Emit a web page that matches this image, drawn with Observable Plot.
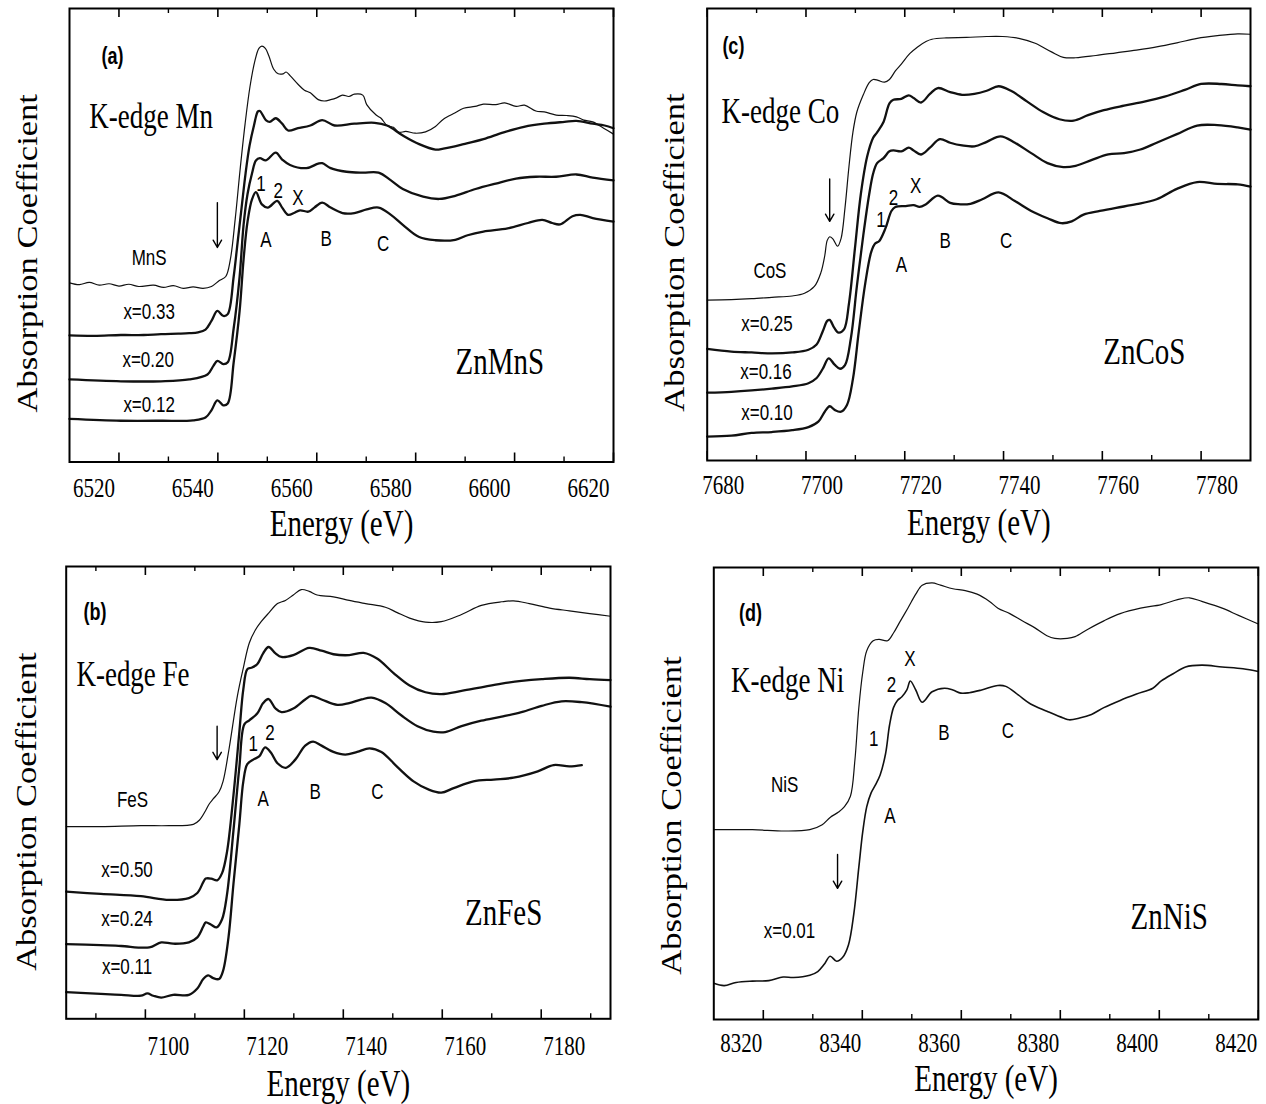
<!DOCTYPE html>
<html><head><meta charset="utf-8">
<script src="https://cdn.jsdelivr.net/npm/d3@7"></script>
<script src="https://cdn.jsdelivr.net/npm/@observablehq/plot@0.6"></script>
<style>
html,body{margin:0;padding:0;background:#fff;}
#fig{position:relative;width:1266px;height:1104px;overflow:hidden;background:#fff;}
#fig > svg{position:absolute;}
</style></head><body><div id="fig"></div>
<script>
// ---------- Panel (a): K-edge Mn, ZnMnS ----------
const ticksA = [6520, 6540, 6560, 6580, 6600, 6620];
const minorA = [6530, 6550, 6570, 6590, 6610];
const mnsA = [[6510,39.5],[6512,39.1],[6514,39.6],[6516,39.0],[6518,39.3],[6520,38.8],[6522,39.2],[6524,38.7],[6527,39.0],[6529,38.5],[6531,38.9],[6533,38.3],[6535,38.6],[6537,38.3],[6538.7,38.7],[6540.3,40.0],[6541.6,40.9],[6542.5,44.5],[6543.5,53.5],[6544.5,64.5],[6545.5,74.5],[6546.5,82.8],[6547.5,88.5],[6548.3,91.2],[6548.9,91.7],[6549.6,91.2],[6550.3,89.6],[6551.3,86.6],[6552.2,85.6],[6553.2,85.6],[6553.8,86.0],[6554.6,85.2],[6556.2,83.3],[6557.5,82.0],[6558.7,81.4],[6560.3,79.9],[6561.5,79.6],[6562.8,79.9],[6564,80.3],[6565.2,80.9],[6566.5,80.6],[6567.6,81.1],[6569.3,80.9],[6570.1,78.8],[6572,76.5],[6573,75.8],[6574.2,74.2],[6575.5,73.8],[6576.6,72.7],[6578,72.9],[6579.9,72.5],[6582,72.8],[6584,74.0],[6585.6,75.6],[6588,77.0],[6589.7,78.0],[6592,78.4],[6593.7,78.9],[6596.2,78.8],[6598,79.2],[6600.3,78.4],[6602,78.7],[6604.3,77.4],[6606,77.2],[6608.4,76.5],[6610.5,76.4],[6612.5,76.1],[6614,75.4],[6615.8,75.0],[6618,73.6],[6620,72.3]];
const x033A = [[6510,27.9],[6515,27.8],[6520.4,28.0],[6525,28.0],[6528.5,28.2],[6532,28.3],[6534.2,28.4],[6536,28.6],[6537.5,29.2],[6538.7,31.1],[6539.9,33.3],[6541.1,32.2],[6542.0,32.6],[6543.2,40.9],[6544.0,48.5],[6544.8,56.1],[6545.6,63.6],[6546.4,69.7],[6547.3,74.2],[6548.1,77.3],[6548.5,77.4],[6549.7,75.4],[6550.5,75.0],[6551.7,75.8],[6553.0,74.6],[6554.2,73.1],[6556.2,73.6],[6558.7,74.2],[6561.1,75.4],[6563.6,74.2],[6567.6,74.6],[6571.7,74.8],[6574.2,74.2],[6577.4,72.0],[6580.7,70.1],[6584.0,68.9],[6585.6,69.1],[6589.7,70.1],[6593.7,71.2],[6597.8,72.7],[6601.9,73.9],[6606.0,74.6],[6610.1,75.0],[6612.5,75.2],[6615.8,74.6],[6618.2,74.2],[6620,73.6]];
const x020A = [[6510,18.2],[6520.4,17.8],[6528.5,17.8],[6534.2,18.2],[6537.9,19.3],[6539.1,21.2],[6539.9,22.3],[6541.1,21.6],[6542.0,22.0],[6543.2,29.5],[6544.4,40.9],[6545.2,52.3],[6546.0,59.1],[6546.9,63.6],[6547.7,66.5],[6548.5,67.0],[6549.7,66.5],[6551.7,68.2],[6553.0,66.7],[6554.6,65.5],[6557.9,64.8],[6560.3,65.8],[6561.1,65.9],[6562.8,64.8],[6566.0,64.0],[6569.3,63.8],[6572.5,63.8],[6575.0,62.1],[6577.4,60.2],[6581.5,58.5],[6584.8,58.0],[6588.0,58.7],[6592.1,60.2],[6596.2,61.4],[6600.3,62.5],[6604.3,62.9],[6608.4,62.9],[6612.5,63.4],[6615.8,62.7],[6620,62.1]];
const x012A = [[6510,9.5],[6520.4,9.1],[6528.5,9.1],[6535,9.2],[6537.5,9.8],[6538.7,11.4],[6539.9,13.6],[6541.1,12.5],[6542.0,12.9],[6543.2,22.0],[6544.4,33.3],[6545.2,44.7],[6546.0,53.0],[6546.9,57.9],[6547.7,59.5],[6548.9,56.8],[6550.1,56.1],[6552.0,57.6],[6553.0,56.1],[6554.2,54.5],[6555.4,54.9],[6556.6,55.5],[6558.3,55.2],[6559.5,56.1],[6561.1,57.2],[6562.8,56.1],[6565.2,54.9],[6567.6,54.9],[6570.1,55.7],[6572.5,56.1],[6575.0,54.5],[6577.4,52.3],[6580.7,49.6],[6584.0,48.9],[6588.0,49.0],[6590.5,50.0],[6593.7,50.8],[6598.6,51.5],[6602.7,52.7],[6605.6,53.4],[6607.6,52.7],[6609.2,52.4],[6611.7,54.2],[6613.3,54.5],[6615.8,53.8],[6620,53.0]];
const serifA = [{x:6526.5,y:76.1,t:"K-edge Mn",s:27},{x:6597,y:22.0,t:"ZnMnS",s:29}];
const sansA = [{x:6526.1,y:45.1,t:"MnS",s:17},{x:6526.1,y:33.0,t:"x=0.33",s:17},{x:6525.9,y:22.5,t:"x=0.20",s:17},{x:6526.1,y:12.5,t:"x=0.12",s:17},
  {x:6548.7,y:61.4,t:"1",s:17},{x:6552.2,y:59.7,t:"2",s:17},{x:6556.2,y:58.2,t:"X",s:17},{x:6549.7,y:48.9,t:"A",s:17},{x:6561.9,y:49.2,t:"B",s:17},{x:6573.4,y:48.1,t:"C",s:17}];
const tagA = [{x:6518.7,y:89.4,t:"(a)"}];
const arrowA = [{x:6539.9,y1:57.2,y2:47.3}];

// ---------- Panel (c): K-edge Co, ZnCoS ----------
const ticksC = [7680, 7700, 7720, 7740, 7760, 7780];
const minorC = [7690, 7710, 7730, 7750, 7770];
const cosC = [[7680,35.5],[7684.9,35.6],[7689.0,35.8],[7693.1,36.1],[7697.2,36.4],[7699.7,37.0],[7701.7,38.5],[7703.0,41.5],[7703.8,45.3],[7704.3,48.7],[7704.8,49.5],[7705.4,49.1],[7706.4,47.4],[7707.1,49.1],[7707.9,55.9],[7708.7,65.0],[7709.5,72.6],[7710.3,77.1],[7711.6,80.9],[7712.8,83.6],[7713.6,84.3],[7714.6,84.1],[7715.9,83.7],[7716.9,84.3],[7718.1,86.2],[7719.3,87.7],[7721.0,90.0],[7722.6,91.5],[7724.3,92.7],[7725.5,93.2],[7728.4,93.5],[7732.5,93.6],[7736.6,93.8],[7739.8,93.8],[7743.1,93.4],[7746.4,92.3],[7749.7,90.4],[7752.1,89.2],[7754.6,89.1],[7758.7,89.6],[7762.8,90.2],[7766.9,90.8],[7771.0,91.5],[7775.1,92.4],[7779.2,93.4],[7783.3,94.0],[7787.4,94.4],[7790,94.3]];
const x025C = [[7680,24.7],[7684.9,24.1],[7689.0,23.9],[7693.1,23.7],[7697.2,23.9],[7700.5,24.5],[7702.1,25.6],[7703.4,28.6],[7704.3,30.9],[7704.8,31.1],[7705.7,29.4],[7706.6,28.3],[7707.7,29.0],[7708.7,34.7],[7709.9,46.8],[7711.1,58.9],[7712.4,67.3],[7713.6,71.4],[7714.4,72.6],[7715.7,74.9],[7716.9,79.0],[7717.7,79.8],[7719.3,80.0],[7720.8,80.8],[7721.8,80.2],[7723.3,79.2],[7725.1,81.1],[7726.7,82.4],[7729.2,81.5],[7731.6,80.9],[7734.1,81.1],[7736.6,81.8],[7739.0,82.8],[7741.5,81.8],[7744.8,79.4],[7748.0,77.1],[7751.3,75.5],[7754.2,75.2],[7757.1,76.4],[7760.3,77.5],[7764.4,78.5],[7768.5,79.4],[7772.6,80.5],[7776.7,82.0],[7780.0,83.3],[7784.1,83.3],[7787.4,83.0],[7790,82.8]];
const x016C = [[7680,15.0],[7684.9,15.2],[7689.0,15.5],[7693.1,15.9],[7697.2,16.4],[7700.5,17.1],[7702.1,18.2],[7703.4,20.3],[7704.6,22.6],[7705.8,21.2],[7706.9,20.3],[7707.9,21.1],[7709.1,27.1],[7710.3,38.5],[7711.6,49.8],[7712.8,58.9],[7713.6,63.5],[7714.4,65.8],[7715.7,66.9],[7716.9,68.4],[7717.7,68.6],[7719.3,68.4],[7720.8,69.2],[7721.8,68.6],[7723.3,67.7],[7725.1,69.2],[7727.1,71.1],[7729.2,70.3],[7731.6,69.7],[7734.1,69.5],[7736.6,70.5],[7739.4,71.7],[7742.3,70.3],[7745.6,68.0],[7748.9,65.8],[7752.1,64.9],[7754.6,65.2],[7757.9,66.5],[7761.2,67.7],[7764.4,68.0],[7767.7,68.8],[7771.0,70.3],[7775.1,72.2],[7779.2,74.1],[7783.3,74.2],[7787.4,73.7],[7790,73.2]];
const x010C = [[7680,5.3],[7684.9,5.5],[7689.0,6.1],[7693.1,6.3],[7697.2,6.7],[7700.5,7.4],[7702.5,8.6],[7703.8,10.8],[7704.8,12.0],[7705.8,11.2],[7707.1,10.8],[7708.3,12.3],[7709.5,18.0],[7710.7,28.6],[7712.0,39.2],[7713.2,46.1],[7714.0,48.0],[7714.8,48.5],[7716.1,51.4],[7717.3,55.2],[7718.1,56.1],[7720.2,56.3],[7721.8,56.5],[7723.0,56.1],[7724.3,56.7],[7726.7,58.6],[7729.2,57.0],[7730.8,56.7],[7733.3,56.8],[7735.7,57.8],[7739.0,59.3],[7742.3,57.4],[7745.6,55.2],[7748.9,53.6],[7751.7,52.5],[7753.8,52.9],[7756.2,54.4],[7759.5,55.2],[7762.8,55.9],[7766.9,56.7],[7771.0,57.8],[7775.1,60.1],[7779.2,61.6],[7783.3,61.2],[7787.4,61.1],[7790,60.6]];
const serifC = [{x:7694.8,y:77.1,t:"K-edge Co",s:27},{x:7768.5,y:24.1,t:"ZnCoS",s:29}];
const sansC = [{x:7692.7,y:41.9,t:"CoS",s:17},{x:7692.1,y:30.2,t:"x=0.25",s:17},{x:7691.9,y:19.5,t:"x=0.16",s:17},{x:7692.1,y:10.5,t:"x=0.10",s:17},
  {x:7715.2,y:53.3,t:"1",s:17},{x:7717.7,y:58.0,t:"2",s:17},{x:7722.2,y:60.8,t:"X",s:17},{x:7719.3,y:43.2,t:"A",s:17},{x:7728.2,y:48.6,t:"B",s:17},{x:7740.5,y:48.6,t:"C",s:17}];
const tagC = [{x:7685.3,y:91.5,t:"(c)"}];
const arrowC = [{x:7704.8,y1:62.3,y2:52.9}];

// ---------- Panel (b): K-edge Fe, ZnFeS ----------
const ticksB = [7100, 7120, 7140, 7160, 7180];
const minorB = [7090, 7110, 7130, 7150, 7170, 7190];
const fesB = [[7084,42.5],[7091,42.5],[7099.1,42.7],[7104.8,42.7],[7109.7,43.0],[7110.9,43.9],[7112.1,45.9],[7112.9,47.5],[7113.7,48.6],[7114.9,50.2],[7115.7,52.5],[7116.9,59.6],[7118.6,71.4],[7119.8,77.6],[7121.0,83.1],[7122.2,85.9],[7123.4,87.8],[7125.0,89.8],[7126.7,91.8],[7128.3,92.5],[7129.9,93.7],[7131.5,94.9],[7133.1,94.5],[7134.7,93.7],[7138.0,93.3],[7141.2,92.5],[7144.5,91.8],[7148.5,91.0],[7150.9,89.8],[7153.4,88.6],[7156.6,87.7],[7159.8,87.8],[7163.9,89.4],[7167.9,91.4],[7172.0,92.2],[7174.4,92.4],[7177.6,91.8],[7181.7,90.8],[7185.7,90.2],[7189.8,89.6],[7194,89.0]];
const x050B = [[7084,28.1],[7091.0,27.6],[7099.1,27.1],[7104.8,26.3],[7108.8,26.7],[7110.5,27.8],[7111.7,30.2],[7112.2,31.0],[7113.3,31.0],[7114.5,30.6],[7115.5,32.2],[7116.5,36.9],[7117.8,49.4],[7119.0,63.5],[7119.8,72.9],[7120.6,77.3],[7121.4,77.6],[7122.6,78.4],[7123.8,80.8],[7124.9,82.2],[7126.3,80.8],[7127.5,80.0],[7129.9,80.4],[7133.1,82.0],[7135.6,81.4],[7138.0,80.6],[7141.2,80.4],[7144.1,80.9],[7146.9,79.6],[7150.1,76.5],[7153.4,73.7],[7156.6,72.2],[7159.8,71.8],[7163.9,72.5],[7167.9,73.3],[7172.0,74.1],[7176.0,74.7],[7180.1,75.1],[7185.7,75.4],[7189.8,75.1],[7194,74.9]];
const x024B = [[7084,16.5],[7091.0,16.3],[7095.1,16.1],[7100.8,15.8],[7103.2,16.9],[7105.6,16.6],[7108.8,16.9],[7110.5,18.0],[7111.7,20.4],[7112.2,21.3],[7113.3,20.8],[7114.4,20.2],[7115.5,22.0],[7116.5,27.5],[7117.8,41.6],[7119.0,55.7],[7120.0,65.1],[7121.0,66.0],[7122.6,67.5],[7123.8,69.8],[7124.9,70.7],[7126.3,68.6],[7127.5,67.8],[7129.9,68.6],[7132.3,70.6],[7133.5,71.4],[7135.6,70.6],[7138.8,69.4],[7141.2,69.8],[7143.7,70.6],[7145.7,71.0],[7148.5,69.8],[7151.7,67.1],[7155.0,64.7],[7158.2,63.5],[7160.6,63.4],[7163.9,64.7],[7167.9,65.9],[7172.0,66.8],[7176.0,67.8],[7180.1,69.2],[7184.1,70.2],[7188.2,70.0],[7194,69.0]];
const x011B = [[7084,5.9],[7091.0,5.5],[7095.1,5.3],[7099.1,5.1],[7100.4,5.6],[7101.6,5.1],[7103.2,4.7],[7105.6,5.3],[7108.8,5.3],[7110.5,6.7],[7111.7,8.8],[7112.7,9.6],[7113.7,9.0],[7114.9,8.8],[7115.7,10.6],[7116.8,18.0],[7117.8,29.8],[7119.0,43.1],[7119.8,52.5],[7120.6,56.3],[7121.8,57.3],[7123.0,58.0],[7124.2,60.0],[7125.4,58.8],[7126.7,56.5],[7128.4,55.5],[7130.3,57.3],[7132.3,60.4],[7133.9,61.3],[7135.6,60.4],[7138.0,59.0],[7140.4,58.4],[7142.8,59.0],[7145.3,59.8],[7147.7,59.0],[7150.9,55.7],[7154.2,52.5],[7157.4,50.6],[7159.8,50.0],[7162.3,51.0],[7166.3,52.5],[7170.4,52.9],[7174.4,53.3],[7179.3,54.7],[7182.5,56.1],[7185.7,55.8],[7188.2,56.1]];
const serifB = [{x:7097.5,y:76.1,t:"K-edge Fe",s:27},{x:7172.4,y:23.5,t:"ZnFeS",s:29}];
const sansB = [{x:7097.4,y:48.5,t:"FeS",s:17},{x:7096.3,y:32.9,t:"x=0.50",s:17},{x:7096.3,y:22.0,t:"x=0.24",s:17},{x:7096.3,y:11.4,t:"x=0.11",s:17},
  {x:7121.8,y:60.8,t:"1",s:17},{x:7125.2,y:63.1,t:"2",s:17},{x:7123.8,y:48.6,t:"A",s:17},{x:7134.3,y:50.2,t:"B",s:17},{x:7146.9,y:50.2,t:"C",s:17}];
const tagB = [{x:7089.8,y:89.8,t:"(b)"}];
const arrowB = [{x:7114.5,y1:64.7,y2:57.3}];

// ---------- Panel (d): K-edge Ni, ZnNiS ----------
const ticksD = [8320, 8340, 8360, 8380, 8400, 8420];
const minorD = [8330, 8350, 8370, 8390, 8410];
const nisD = [[8310,42.0],[8317.8,42.0],[8324.4,41.7],[8329.4,42.0],[8331.9,43.1],[8333.5,44.7],[8335.2,45.9],[8336.4,47.1],[8337.6,49.4],[8338.5,57.3],[8339.3,69.0],[8340.1,76.9],[8340.9,81.6],[8342.2,83.8],[8343.4,84.1],[8345.1,83.8],[8346.3,85.5],[8347.5,87.8],[8349.2,91.0],[8350.8,94.1],[8352.1,96.1],[8354.1,96.6],[8355.8,96.1],[8358.3,95.3],[8360.8,94.9],[8363.2,94.1],[8365.7,92.5],[8367.4,91.0],[8369.8,89.8],[8372.3,88.2],[8374.8,86.7],[8377.3,84.9],[8378.9,84.3],[8381.4,84.3],[8383.0,84.7],[8385.5,86.3],[8388.8,88.2],[8392.1,89.8],[8396.2,91.0],[8400.4,91.8],[8403.7,92.9],[8406.1,93.3],[8408.6,92.5],[8412.7,91.0],[8416.0,89.4],[8420,87.5]];
const x001D = [[8310,8.0],[8312.1,7.5],[8314.5,8.2],[8317.8,8.5],[8321.1,8.6],[8324.0,9.4],[8326.1,9.3],[8329.4,9.8],[8331.0,10.6],[8332.3,12.2],[8333.5,14.0],[8334.8,12.9],[8336.0,13.7],[8337.2,16.5],[8338.3,23.5],[8339.3,33.7],[8340.1,41.6],[8340.9,47.1],[8341.8,50.2],[8342.6,51.8],[8343.6,54.1],[8344.7,58.8],[8345.5,65.1],[8346.3,69.0],[8347.1,70.6],[8348.0,71.4],[8349.0,72.9],[8349.7,74.9],[8350.8,72.9],[8352.1,70.2],[8354.1,72.5],[8356.6,73.3],[8358.3,72.9],[8359.9,72.2],[8361.6,72.3],[8364.1,72.9],[8367.4,73.9],[8369.0,73.7],[8371.5,71.8],[8374.0,69.8],[8377.3,68.2],[8380.6,66.7],[8381.8,66.3],[8383.9,66.7],[8386.3,67.5],[8388.8,69.0],[8392.1,70.6],[8395.4,72.0],[8398.7,73.3],[8400.4,74.9],[8402.8,76.5],[8405.3,78.0],[8408.6,78.4],[8412.7,78.0],[8416.9,77.6],[8420,77.0]];
const serifD = [{x:8324.9,y:74.9,t:"K-edge Ni",s:27},{x:8402.0,y:22.7,t:"ZnNiS",s:29}];
const sansD = [{x:8324.3,y:51.8,t:"NiS",s:17},{x:8325.3,y:19.5,t:"x=0.01",s:17},
  {x:8342.3,y:62.0,t:"1",s:17},{x:8345.9,y:74.1,t:"2",s:17},{x:8349.6,y:79.8,t:"X",s:17},{x:8345.6,y:45.1,t:"A",s:17},{x:8356.5,y:63.4,t:"B",s:17},{x:8369.4,y:63.9,t:"C",s:17}];
const tagD = [{x:8317.4,y:89.8,t:"(d)"}];
const arrowD = [{x:8335.0,y1:36.5,y2:29.0}];

// ---------- rendering ----------
const SERIF = "'Liberation Serif','Times New Roman',serif";
const SANS = "'Liberation Sans',Arial,sans-serif";
const STRETCH = 1.3;     // the scanned figure is taller than wide
const YLAB_STRETCH = 1.15;

function makePanel(p) {
  const innerH = p.height - p.mt - p.mb;
  const marks = [
    ...p.curves.map(c => Plot.line(c.data, {x: d => d[0], y: d => d[1], stroke: "#111", strokeWidth: c.w, curve: "catmull-rom"})),
    Plot.ruleX(p.major, {insetTop: innerH - 9, stroke: "#000", strokeWidth: 1.6}),
    Plot.ruleX(p.major, {insetBottom: innerH - 9, stroke: "#000", strokeWidth: 1.6}),
    Plot.ruleX(p.minor, {insetTop: innerH - 5, stroke: "#000", strokeWidth: 1.4}),
    Plot.ruleX(p.minor, {insetBottom: innerH - 5, stroke: "#000", strokeWidth: 1.4}),
    Plot.frame({stroke: "#000", strokeWidth: 2}),
    Plot.text(p.major, {x: d => d, frameAnchor: "bottom", lineAnchor: "middle", dy: p.tickDy, dx: p.tickDx, text: d => String(d), fontFamily: SERIF, fontSize: 21, fill: "#000"}),
    Plot.text(["Energy (eV)"], {frameAnchor: "bottom", lineAnchor: "middle", textAnchor: "middle", dy: p.titleDy, fontFamily: SERIF, fontSize: 29, fill: "#000"}),
    Plot.text(["Absorption Coefficient"], {frameAnchor: "left", textAnchor: "middle", lineAnchor: "middle", rotate: -90, dx: p.ylabDx, dy: p.ylabDy, fontFamily: SERIF, fontSize: 30, fill: "#000"}),
    Plot.text(p.serif, {x: "x", y: "y", text: "t", fontSize: "s", fontFamily: SERIF, fill: "#000"}),
    Plot.text(p.sans, {x: "x", y: "y", text: "t", fontSize: "s", fontFamily: SANS, fill: "#000"}),
    Plot.text(p.tag, {x: "x", y: "y", text: "t", fontSize: 18, fontWeight: "bold", fontFamily: SANS, fill: "#000"}),
    Plot.arrow(p.arrows, {x1: "x", x2: "x", y1: "y1", y2: "y2", stroke: "#000", strokeWidth: 1.4, headLength: 9})
  ];
  const svg = Plot.plot({
    width: p.width, height: p.height,
    marginLeft: p.ml, marginRight: p.mr, marginTop: p.mt, marginBottom: p.mb,
    x: {domain: p.xdom, axis: null},
    y: {domain: [0, 100], axis: null},
    style: {background: "transparent", overflow: "visible"},
    marks
  });
  svg.querySelectorAll("text").forEach(t => {
    const tr = t.getAttribute("transform") || "";
    const rot = /rotate/.test(tr);
    t.setAttribute("transform", tr + (rot ? ` scale(${YLAB_STRETCH},1)` : ` scale(1,${STRETCH})`));
  });
  svg.style.left = p.left + "px";
  svg.style.top = p.top + "px";
  document.getElementById("fig").appendChild(svg);
}

makePanel({left: 0, top: 0, width: 633, height: 552, ml: 69, mr: 20, mt: 8, mb: 90.5,
  xdom: [6510, 6620], major: ticksA, minor: minorA, tickDx: -25, tickDy: 26.5, titleDy: 61.5, ylabDx: -42, ylabDy: 18,
  curves: [{data: mnsA, w: 1.2}, {data: x033A, w: 2.3}, {data: x020A, w: 2.3}, {data: x012A, w: 2.3}],
  serif: serifA, sans: sansA, tag: tagA, arrows: arrowA});
makePanel({left: 633, top: 0, width: 633, height: 552, ml: 73.7, mr: 16, mt: 8, mb: 92,
  xdom: [7680, 7790], major: ticksC, minor: minorC, tickDx: 16, tickDy: 25, titleDy: 62, ylabDx: -33, ylabDy: 18,
  curves: [{data: cosC, w: 1.2}, {data: x025C, w: 2.3}, {data: x016C, w: 2.3}, {data: x010C, w: 2.3}],
  serif: serifC, sans: sansC, tag: tagC, arrows: arrowC});
makePanel({left: 0, top: 552, width: 633, height: 552, ml: 65.7, mr: 23, mt: 14, mb: 85.7,
  xdom: [7084, 7194], major: ticksB, minor: minorB, tickDx: 23, tickDy: 27, titleDy: 65, ylabDx: -40, ylabDy: 19,
  curves: [{data: fesB, w: 1.2}, {data: x050B, w: 2.3}, {data: x024B, w: 2.3}, {data: x011B, w: 2.3}],
  serif: serifB, sans: sansB, tag: tagB, arrows: arrowB});
makePanel({left: 633, top: 552, width: 633, height: 552, ml: 80.3, mr: 8.2, mt: 15, mb: 85,
  xdom: [8310, 8420], major: ticksD, minor: minorD, tickDx: -22, tickDy: 24, titleDy: 59, ylabDx: -42, ylabDy: 22,
  curves: [{data: nisD, w: 1.2}, {data: x001D, w: 1.6}],
  serif: serifD, sans: sansD, tag: tagD, arrows: arrowD});
</script></body></html>
